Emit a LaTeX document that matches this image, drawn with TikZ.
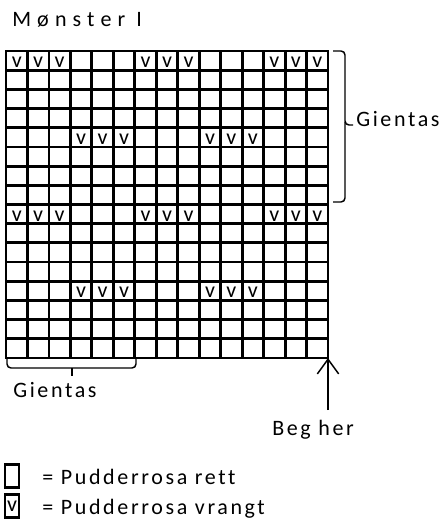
\documentclass[tikz,border=0pt]{standalone}
\usepackage{fontspec}
\setmainfont{Carlito}[LetterSpace=12,Ligatures=CommonOff]
\newfontfamily\titlefont{Carlito}[LetterSpace=28,Ligatures=CommonOff]
\usetikzlibrary{arrows.meta}
\tikzstyle{txt} = [inner sep=0pt, anchor=base west, font=\fontsize{16.5pt}{18pt}\selectfont]
\tikzstyle{purl} = [inner sep=0pt, anchor=base, font=\fontsize{16.5pt}{18pt}\selectfont]
\tikzstyle{gridline} = [line width=2.1pt, line cap=rect]
\tikzstyle{bracket} = [line width=1.1pt, rounded corners=3pt]
\tikzstyle{arrow} = [line width=1.1pt,-{Straight Barb[length=11pt,width=16pt]}]
\tikzstyle{legendbox} = [rectangle, draw=black, line width=2pt, minimum width=10.5pt, minimum height=17pt, inner sep=0pt, font=\fontsize{16.5pt}{18pt}\selectfont]

\begin{document}
\begin{tikzpicture}[x=0.75pt,y=-0.75pt]
\useasboundingbox (0,0) rectangle (441,530);
\node (title) [txt] at (12,27) {\titlefont Mønster I};

% diagram 15 x 16
\foreach \i in {0,...,15}
  \draw [gridline] ({6+\i*21.47},51) -- ({6+\i*21.47},358);
\foreach \j in {0,...,16}
  \draw [gridline] (6,{51+\j*19.19}) -- (328,{51+\j*19.19});
\coordinate (corner) at (328,358);

% vrangt
\foreach \r in {0,8}
  \foreach \c in {0,1,2,6,7,8,12,13,14}
    \node (v-\r-\c) [purl] at ({6+(\c+0.5)*21.47},{51+\r*19.19+16.5}) {v};
\foreach \r in {4,12}
  \foreach \c in {3,4,5,9,10,11}
    \node (v-\r-\c) [purl] at ({6+(\c+0.5)*21.47},{51+\r*19.19+16.5}) {v};

% gjentas
\draw [bracket] (333,51) -- (345,51) -- (345,125) -- (353,125);
\draw [bracket] (345,122) -- (345,202) -- (333,202);
\node (repright) [txt] at (356,127) {Gientas};
\draw [bracket] (7,358) -- (7,368) -- (136,368) -- (136,358);
\draw [line width=1.1pt] (72,368) -- (72,376);
\node (repbottom) [txt] at (13,397) {Gientas};

% start
\coordinate (foot) at (328,410);
\draw [arrow] (foot) -- (corner);
\node (begin) [txt] at (272,435) {Beg her};

% legend
\node (boxrett) [legendbox] at (12,476) {};
\node (rett) [txt] at (42,484) {= Pudderrosa rett};
\node (boxvrangt) [legendbox] at (12,506) {v};
\node (vrangt) [txt] at (42,514) {= Pudderrosa vrangt};
\end{tikzpicture}
\end{document}
